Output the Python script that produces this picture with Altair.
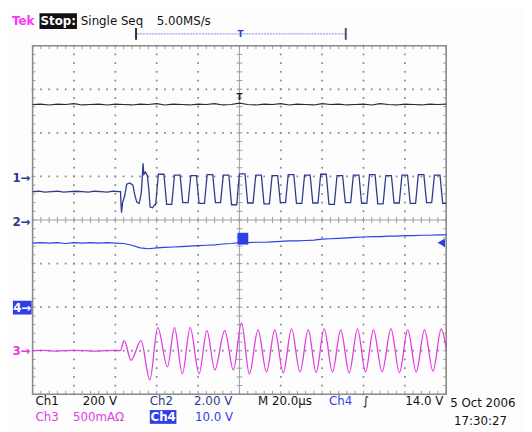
import altair as alt
import numpy as np
import pandas as pd

# ---------------- data ----------------
# horizontal: time in microseconds (20 us/div, trigger at centre)
# vertical: screen divisions (centre line = 0)
black_v = [2.65, 2.66, 2.64, 2.66, 2.65, 2.67, 2.64, 2.65, 2.66, 2.64, 2.66, 2.65, 2.64,
           2.66, 2.65, 2.67, 2.64, 2.66, 2.65, 2.64, 2.66, 2.65, 2.67, 2.64, 2.65, 2.68,
           2.65, 2.64, 2.66, 2.65, 2.67, 2.64, 2.66, 2.65, 2.64, 2.67, 2.65, 2.66, 2.64,
           2.65, 2.66, 2.64, 2.67, 2.65, 2.64, 2.66, 2.65, 2.64, 2.66, 2.65, 2.66]

ch2_v = [-0.53, -0.52, -0.53, -0.52, -0.54, -0.52, -0.53, -0.52, -0.53, -0.52, -0.53,
         -0.54, -0.58, -0.64, -0.66, -0.64, -0.63, -0.62, -0.61, -0.60, -0.59, -0.58,
         -0.57, -0.55, -0.54, -0.52, -0.52, -0.51, -0.51, -0.50, -0.49, -0.48, -0.48,
         -0.47, -0.46, -0.44, -0.43, -0.42, -0.41, -0.40, -0.39, -0.38, -0.38, -0.37,
         -0.37, -0.36, -0.36, -0.35, -0.35, -0.34, -0.34]

ch1_pre_t = [-100, -97, -94, -91, -88, -85, -82, -79, -76, -73, -70, -67, -64, -61, -58,
             -57.5, -57.3, -57.0, -56.5, -55.5, -54.5, -53.0, -51.5, -50.5, -49.5, -48.5,
             -47.5, -47.0, -46.6, -46.2, -45.5, -44.5, -43.8, -43.2, -42.0, -41.0]
ch1_pre_v = [0.65, 0.66, 0.64, 0.65, 0.66, 0.64, 0.65, 0.66, 0.65, 0.64, 0.66, 0.65, 0.64,
             0.66, 0.65, 0.65, 0.40, 0.17, 0.40, 0.55, 0.82, 0.85, 0.80, 0.55, 0.40, 0.38,
             0.60, 0.95, 1.30, 1.05, 1.10, 1.02, 0.70, 0.30, 0.28, 0.35]
ch1_rise = [-40.5, -32.7, -24.8, -16.9, -9.1, -1.3, 6.6, 14.5, 22.3, 30.2, 38.0, 45.9,
            53.8, 61.6, 69.5, 77.3, 85.2, 93.0]
ch1_high = [1.05, 1.03, 1.02, 1.04, 1.03, 1.06, 1.03, 1.02, 1.04, 1.03, 1.05, 1.02,
            1.03, 1.04, 1.02, 1.03, 1.04, 1.03]
ch1_low = [0.36, 0.40, 0.38, 0.40, 0.35, 0.39, 0.37, 0.40, 0.38, 0.39, 0.36, 0.40,
           0.38, 0.37, 0.39, 0.38, 0.40, 0.38]

ch3_t = [-100, -95, -90, -85, -80, -75, -70, -65, -60, -57.6, -55.7, -52.4, -47.6, -43.3,
         -39.5, -34.8, -31.4, -27.6, -23.8, -19.5, -15.7, -11.9, -7.1, -2.9, 1.0, 4.8, 9.0,
         13.1, 17.1, 21.2, 25.2, 29.3, 33.3, 37.1, 41.0, 45.0, 49.0, 53.1, 57.1, 61.0, 64.8,
         69.0, 73.3, 77.4, 81.4, 85.5, 89.5, 93.6, 97.6, 100]
ch3_v = [-3.0, -2.99, -3.01, -3.0, -2.99, -3.0, -3.01, -3.0, -2.99, -3.0, -2.77, -3.22,
         -2.77, -3.67, -2.47, -3.37, -2.47, -3.53, -2.47, -3.53, -2.54, -3.44, -2.54, -3.44,
         -2.36, -3.53, -2.52, -3.49, -2.52, -3.51, -2.50, -3.49, -2.52, -3.50, -2.50, -3.49,
         -2.52, -3.51, -2.50, -3.49, -2.52, -3.48, -2.50, -3.50, -2.52, -3.49, -2.52, -3.47,
         -2.50, -2.95]

# ---------------- colours / layout ----------------
NAVY = "#2e3a8c"
BLUE = "#2f3fe8"
MAG = "#e03ce0"
GRID = "#9c9c9c"
FONT = "DejaVu Sans"
W, H = 420, 354

XS = alt.Scale(domain=[-100, 100], nice=False, zero=False)
YS = alt.Scale(domain=[-4, 4], nice=False, zero=False)

def xq(f="t"):
    return alt.X(f"{f}:Q", scale=XS, axis=None)

def yq(f="y"):
    return alt.Y(f"{f}:Q", scale=YS, axis=None)

# ---------------- graticule ----------------
div_t = [-80, -60, -40, -20, 20, 40, 60, 80]
div_y = [-3, -2, -1, 1, 2, 3]
minor_t = [round(v, 3) for v in np.arange(-100, 100.01, 4)]
minor_y = [round(v, 3) for v in np.arange(-4, 4.001, 0.2)]

dots = pd.DataFrame([(t, y) for t in div_t for y in minor_y] +
                    [(t, y) for y in div_y for t in minor_t], columns=["t", "y"])
dot_layer = alt.Chart(dots).mark_square(size=3.2, color="#8a8a8a", opacity=1).encode(x=xq(), y=yq())

segs = []
for t in minor_t:
    segs += [(t, t, -0.07, 0.07), (t, t, 4, 3.92), (t, t, -4, -3.92)]
for y in minor_y:
    segs += [(-1.4, 1.4, y, y), (-100, -98.6, y, y), (100, 98.6, y, y)]
segs += [(0, 0, -4, 4), (-100, 100, 0, 0)]
seg_df = pd.DataFrame(segs, columns=["t", "t2", "y", "y2"])
tick_layer = alt.Chart(seg_df).mark_rule(color=GRID, strokeWidth=1).encode(
    x=xq(), x2="t2:Q", y=yq(), y2="y2:Q")

border = alt.Chart(pd.DataFrame({"t": [-100], "t2": [100], "y": [-4], "y2": [4]})).mark_rect(
    filled=False, stroke="#8a8a8a", strokeWidth=1.6).encode(x=xq(), x2="t2:Q", y=yq(), y2="y2:Q")

# ---------------- traces ----------------
black_df = pd.DataFrame({"t": np.linspace(-100, 100, len(black_v)), "y": black_v})
ch2_df = pd.DataFrame({"t": np.linspace(-100, 100, len(ch2_v)), "y": ch2_v})

ch1_t = list(ch1_pre_t)
ch1_y = list(ch1_pre_v)
for i, r in enumerate(ch1_rise):
    prev_low = ch1_low[i - 1] if i > 0 else ch1_pre_v[-1]
    ch1_t += [r, r + 1.3, r + 4.0, r + 5.3]
    ch1_y += [prev_low, ch1_high[i], ch1_high[i], ch1_low[i]]
ch1_t.append(100)
ch1_y.append(ch1_low[-1])
ch1_df = pd.DataFrame({"t": ch1_t, "y": ch1_y})
ch1_df = ch1_df[ch1_df.t <= 100]
ch1_df["o"] = range(len(ch1_df))

ch3_df = pd.DataFrame({"t": ch3_t, "y": ch3_v})

black_layer = alt.Chart(black_df).mark_line(color="#2a2a2a", strokeWidth=1.2).encode(x=xq(), y=yq())
ch2_layer = alt.Chart(ch2_df).mark_line(color=BLUE, strokeWidth=1.2).encode(x=xq(), y=yq())
ch1_layer = alt.Chart(ch1_df).mark_line(color=NAVY, strokeWidth=1.3).encode(
    x=xq(), y=yq(), order="o:Q")
ch3_layer = alt.Chart(ch3_df).mark_line(color=MAG, strokeWidth=1.3, interpolate="monotone").encode(
    x=xq(), y=yq())

# ---------------- annotations (pixel positions relative to the plot area) ----------------
def px(f):
    return alt.X(f"{f}:Q", scale=None, axis=None)

def py(f):
    return alt.Y(f"{f}:Q", scale=None, axis=None)

boxes = pd.DataFrame([
    (7, 45, -33, -17, "#111111"),      # Stop:
    (-20, -1, 259, 273, BLUE),         # 4 marker
    (119, 146, 370, 384, BLUE),        # Ch4 box
    (208, 219, 190, 202, BLUE),        # trigger level marker
    (104, 106, -18, -6, "#333333"),    # bracket ends
    (317, 319, -18, -6, "#555555"),
], columns=["x", "x2", "y", "y2", "c"])
box_layer = alt.Chart(boxes).mark_rect().encode(
    x=px("x"), x2="x2:Q", y=py("y"), y2="y2:Q", color=alt.Color("c:N", scale=None))

bracket = alt.Chart(pd.DataFrame({"x": [106], "x2": [317], "y": [-12]})).mark_rule(
    color="#7f86f0", strokeWidth=1, strokeDash=[2, 1]).encode(x=px("x"), x2="x2:Q", y=py("y"))

arrow = alt.Chart(pd.DataFrame({"x": [415], "y": [200]})).mark_point(
    shape="triangle-left", filled=True, size=75, color=BLUE, opacity=1).encode(x=px("x"), y=py("y"))

left_labels = pd.DataFrame([
    ("Single Seq", 49, -25, "#111111"),
    ("5.00MS/s", 126, -25, "#111111"),
    ("Ch1", 3, 361, "#111111"),
    ("200 V", 51, 361, "#111111"),
    ("Ch2", 119, 361, NAVY),
    ("2.00 V", 164, 361, NAVY),
    ("M 20.0µs", 229, 361, "#111111"),
    ("Ch4", 301, 361, BLUE),
    ("∫", 335, 361, "#111111"),
    ("Ch3", 3, 377, MAG),
    ("500mAΩ", 41, 377, MAG),
    ("10.0 V", 165, 377, BLUE),
    ("5 Oct 2006", 424, 363, "#111111"),
    ("17:30:27", 428, 381, "#111111"),
], columns=["s", "x", "y", "c"])
right_labels = pd.DataFrame([
    ("14.0 V", 417, 361, "#111111"),
], columns=["s", "x", "y", "c"])
marker_labels = pd.DataFrame([
    ("1→", -2, 134, NAVY),
    ("2→", -2, 179, NAVY),
    ("3→", -2, 310, MAG),
], columns=["s", "x", "y", "c"])
white_labels = pd.DataFrame([
    ("Stop:", 26, -25),
    ("4→", -10.5, 266),
    ("Ch4", 132.5, 377),
], columns=["s", "x", "y"])
small_t = pd.DataFrame([
    ("T", 210, 52, "#222222"),
    ("T", 211, -12, BLUE),
], columns=["s", "x", "y", "c"])


def text_layer(df, align, size=12, weight="normal", color=None):
    mk = dict(align=align, baseline="middle", font=FONT, fontSize=size, fontWeight=weight)
    enc = dict(x=px("x"), y=py("y"), text="s:N")
    if color is None:
        enc["color"] = alt.Color("c:N", scale=None)
    else:
        mk["color"] = color
    return alt.Chart(df).mark_text(**mk).encode(**enc)


tek = alt.Chart(pd.DataFrame({"s": ["Tek"], "x": [-21], "y": [-25]})).mark_text(
    align="left", baseline="middle", font=FONT, fontSize=12, fontWeight="bold", color="#ff33ff"
).encode(x=px("x"), y=py("y"), text="s:N")

chart = alt.layer(
    dot_layer, tick_layer, border,
    black_layer, ch2_layer, ch1_layer, ch3_layer,
    box_layer, bracket, arrow,
    text_layer(left_labels, "left"),
    text_layer(right_labels, "right"),
    text_layer(marker_labels, "right", weight="bold"),
    text_layer(white_labels, "center", color="white", weight="bold"),
    text_layer(small_t, "center", size=9, weight="bold"),
    tek,
).resolve_scale(x="independent", y="independent", color="independent").properties(
    width=W, height=H, autosize="none",
    padding={"left": 25, "top": 35, "right": 79, "bottom": 35},
    background="#fdfdfd",
).configure_view(stroke=None)

chart.save("out.html", embed_options={"renderer": "svg", "actions": False})
